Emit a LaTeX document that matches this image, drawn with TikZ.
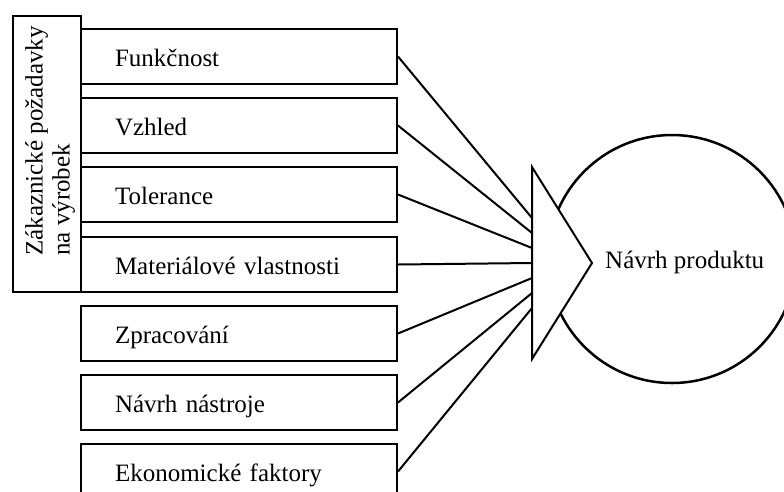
\documentclass[tikz,border=0pt]{standalone}
\usepackage{fontspec}
\setmainfont{Liberation Serif}
\newfontfamily\labelfont{Liberation Serif}
\begin{document}
\begin{tikzpicture}[x=1pt,y=-1pt,
  font=\labelfont\fontsize{25}{27}\selectfont,
  inbox/.style={draw, line width=2pt, anchor=north west, minimum height=55pt,
    inner xsep=34pt, inner ysep=0pt, text width=248pt, align=left,
    text height=20pt, text depth=0pt},
  feed/.style={line width=2pt},
]
\useasboundingbox (0,0) rectangle (784,491);
\clip (0,0) rectangle (784,491);

% outer group box with rotated caption
\node[draw, line width=2pt, anchor=north west, minimum width=68pt, minimum height=276pt, inner sep=0pt] (group) at (12,15) {};
\node[rotate=90, anchor=north west, align=left, inner sep=0pt] (grouptxt) at (25,256)
  {Zákaznické požadavky\\na výrobek};

% requirement boxes
\node[inbox] (b1) at (80,28)  {Funkčnost};
\node[inbox] (b2) at (80,97)  {Vzhled};
\node[inbox] (b3) at (80,166) {Tolerance};
\node[inbox] (b4) at (80,236) {Materiálové vlastnosti};
\node[inbox] (b5) at (80,305) {Zpracování};
\node[inbox] (b6) at (80,374) {Návrh nástroje};
\node[inbox] (b7) at (80,443) {Ekonomické faktory};

% result circle and funnel arrow
\node[circle, draw, line width=2.5pt, minimum size=248pt, inner sep=0pt] (prod) at (672,259) {};
\coordinate (ttop) at (532,167);
\coordinate (tbot) at (532,359);
\coordinate (ttip) at (592,263);
\filldraw[fill=white, line width=2pt, line join=miter] (ttop) -- (ttip) -- (tbot) -- cycle;
\node[anchor=base west, inner sep=0pt] (prodtxt) at (605,268) {Návrh produktu};

% convergence points on the funnel edge
\foreach \i in {1,...,7} {
  \coordinate (p\i) at (532,{203+15*\i});
}
\foreach \i in {1,...,7} {
  \draw[feed] (b\i.east) -- (p\i);
}
\end{tikzpicture}
\end{document}
